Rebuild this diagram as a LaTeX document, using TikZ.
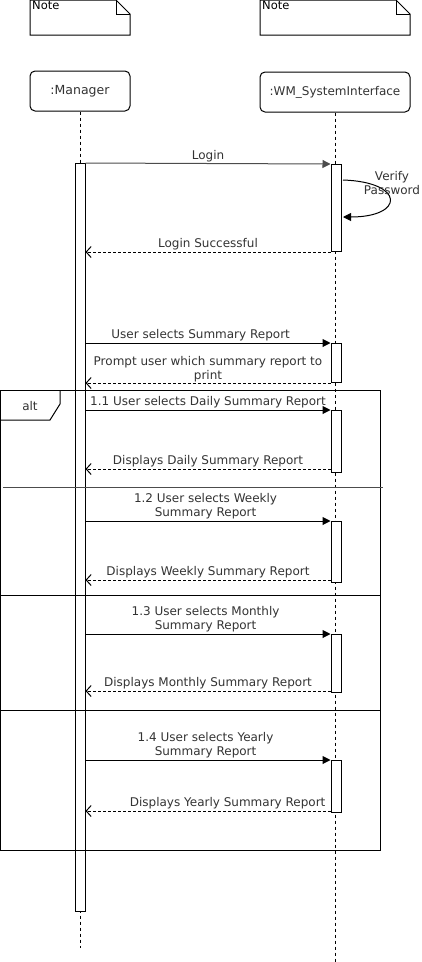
\documentclass[tikz,border=0pt]{standalone}
\usepackage{fontspec}
\setmainfont{DejaVu Sans}
\usetikzlibrary{arrows.meta}
\definecolor{txtgray}{HTML}{333333}
\tikzstyle{lifebox}=[draw, rounded corners=5pt, minimum width=100pt, minimum height=40pt, inner sep=0pt, line width=1pt]
\tikzstyle{actbar}=[draw, fill=white, anchor=north, minimum width=10pt, inner sep=0pt, line width=1pt]
\tikzstyle{lifeline}=[line width=0.8pt, dash pattern=on 3pt off 3pt]
\tikzstyle{callmsg}=[line width=1pt, -{Triangle[length=8pt, width=8pt]}]
\tikzstyle{retmsg}=[line width=1pt, dash pattern=on 3pt off 2pt, -{Straight Barb[length=5pt, width=11pt]}]
\tikzstyle{msglabel}=[text=txtgray, font=\fontsize{12}{14}\selectfont, align=center, inner sep=1.5pt]

\begin{document}
\begin{tikzpicture}[x=1pt, y=-1pt]
\useasboundingbox (0,0) rectangle (422,962);
% notes
\draw[line width=1pt] (30,0) -- (116,0) -- (130,14) -- (130,35) -- (30,35) -- cycle;
\draw[line width=1pt] (116,0) -- (116,14) -- (130,14);
\node[anchor=north west, inner sep=1pt, font=\fontsize{11.5}{12}\selectfont] (note1) at (31,0) {Note};
\draw[line width=1pt] (260,0) -- (396,0) -- (410,14) -- (410,35) -- (260,35) -- cycle;
\draw[line width=1pt] (396,0) -- (396,14) -- (410,14);
\node[anchor=north west, inner sep=1pt, font=\fontsize{11.5}{12}\selectfont] (note2) at (261,0) {Note};
% lifelines
\node[lifebox, text=txtgray, font=\fontsize{12.5}{14}\selectfont] (mgr) at (80,91) {:Manager};
\node[lifebox, minimum width=150pt, text=txtgray, font=\fontsize{12}{14}\selectfont] (wms) at (335,92) {:WM\_SystemInterface};
\coordinate (mgrend) at (80,948);
\coordinate (wmsend) at (335,962);
\draw[lifeline] (mgr.south) -- (mgrend);
\draw[lifeline] (wms.south) -- (wmsend);
% activations
\node[actbar, minimum height=748pt] (mact) at (80,163) {};
\node[actbar, minimum height=87pt] (wlogin) at (336,164) {};
\node[actbar, minimum height=39pt] (wprompt) at (336,343) {};
\node[actbar, minimum height=62pt] (wdaily) at (336,410) {};
\node[actbar, minimum height=61pt] (wweekly) at (336,521) {};
\node[actbar, minimum height=58pt] (wmonthly) at (336,634) {};
\node[actbar, minimum height=52pt] (wyearly) at (336,760) {};
% alt frame
\draw[line width=1pt] (0,390) rectangle (380,850);
\draw[line width=1pt] (0,420) -- (50,420) -- (60,404) -- (60,390);
\node[msglabel] (alttag) at (30,406) {alt};
\draw[line width=1pt, black!70] (3,487) -- (383,487);
\draw[line width=1pt] (0,595) -- (380,595);
\draw[line width=1pt] (0,710) -- (380,710);
% messages
\draw[callmsg, black!70] (mact.north east) -- (wlogin.north west) node[msglabel, midway, above] {Login};
\coordinate (vpout) at (343,180);
\coordinate (vpin) at (343,217);
\draw[line width=1pt, -{Triangle[length=8pt, width=8pt]}] (vpout) .. controls (405,182) and (405,217) .. (vpin);
\node[msglabel] (vplabel) at (392,183) {Verify\\Password};
\draw[retmsg] (wlogin.south west) -- (mact.east |- wlogin.south west) node[msglabel, midway, above] {Login Successful};
\draw[callmsg] (mact.east |- wprompt.north west) -- (wprompt.north west) node[msglabel, pos=0.47, above] {User selects Summary Report};
\draw[retmsg] (wprompt.south west) -- (mact.east |- wprompt.south west) node[msglabel, midway, above, inner sep=1pt] {Prompt user which summary report to\\print};
\draw[callmsg] (mact.east |- wdaily.north west) -- (wdaily.north west) node[msglabel, midway, above] {1.1 User selects Daily Summary Report};
\coordinate (rdaily) at ([yshift=4pt]wdaily.south west);
\draw[retmsg] (rdaily) -- (mact.east |- rdaily) node[msglabel, midway, above] {Displays Daily Summary Report};
\draw[callmsg] (mact.east |- wweekly.north west) -- (wweekly.north west) node[msglabel, pos=0.49, above] {1.2 User selects Weekly\\Summary Report};
\coordinate (rweekly) at ([yshift=3pt]wweekly.south west);
\draw[retmsg] (rweekly) -- (mact.east |- rweekly) node[msglabel, midway, above] {Displays Weekly Summary Report};
\draw[callmsg] (mact.east |- wmonthly.north west) -- (wmonthly.north west) node[msglabel, pos=0.49, above] {1.3 User selects Monthly\\Summary Report};
\coordinate (rmonthly) at ([yshift=2pt]wmonthly.south west);
\draw[retmsg] (rmonthly) -- (mact.east |- rmonthly) node[msglabel, midway, above] {Displays Monthly Summary Report};
\draw[callmsg] (mact.east |- wyearly.north west) -- (wyearly.north west) node[msglabel, pos=0.49, above] {1.4 User selects Yearly\\Summary Report};
\coordinate (ryearly) at ([yshift=2pt]wyearly.south west);
\draw[retmsg] (ryearly) -- (mact.east |- ryearly) node[msglabel, pos=0.42, above] {Displays Yearly Summary Report};
%
\end{tikzpicture}
\end{document}
